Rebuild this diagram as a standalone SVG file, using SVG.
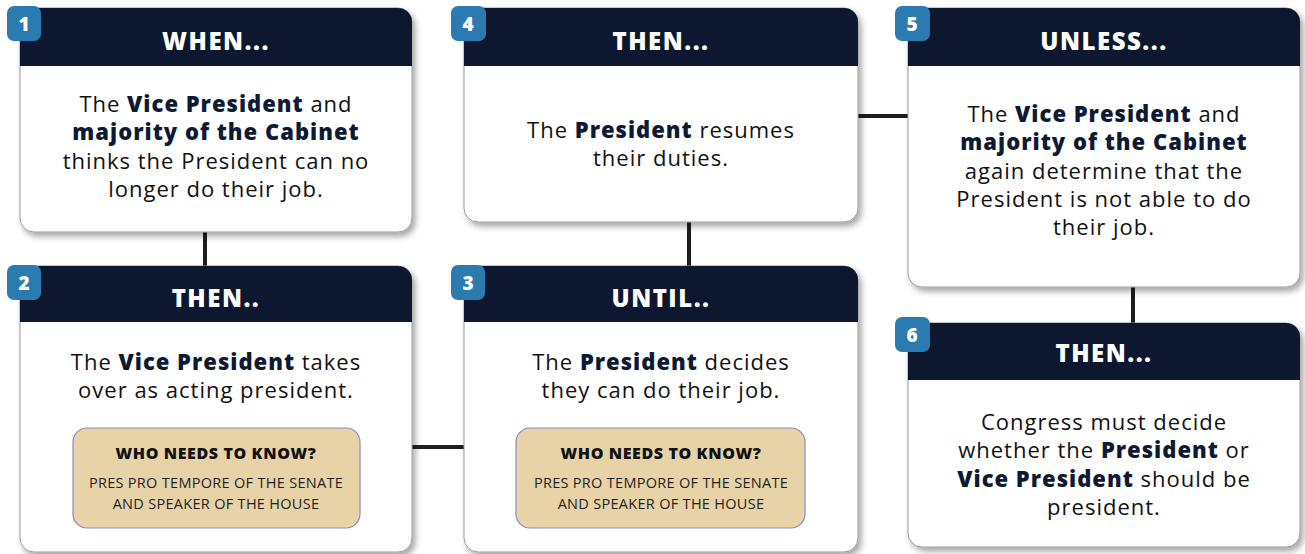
<svg xmlns="http://www.w3.org/2000/svg" width="1305" height="554" viewBox="0 0 1305 554">
<defs>
<filter id="sh" x="-10%" y="-10%" width="125%" height="130%">
<feDropShadow dx="3" dy="4" stdDeviation="3" flood-color="#000" flood-opacity="0.35"/>
</filter>
<style>
.card{fill:#fff;stroke:#9a9a9a;stroke-width:1}
.hdr{fill:#0d1730}
.badge{fill:#2b7bb0}
.bnum{font-family:"Open Sans","Noto Sans",sans-serif;font-weight:800;font-size:19px;fill:#fff;text-anchor:middle}
.htxt{font-family:"Open Sans","Noto Sans",sans-serif;font-weight:800;font-size:24px;letter-spacing:1.5px;fill:#fff;text-anchor:middle}
.body{font-family:"Open Sans","Noto Sans",sans-serif;font-size:22px;letter-spacing:1px;fill:#111;text-anchor:middle}
.b{font-weight:800;fill:#0e1a33}
.tan{fill:#e8d3a8;stroke:#8c88c2;stroke-width:1.2}
.tt{font-family:"Open Sans","Noto Sans",sans-serif;font-weight:800;font-size:16px;letter-spacing:0.6px;fill:#111;text-anchor:middle}
.ts{font-family:"Open Sans","Noto Sans",sans-serif;font-size:14.5px;letter-spacing:0.3px;fill:#222;text-anchor:middle}
.con{stroke:#1e1e1e;stroke-width:4;fill:none}
</style>
</defs>
<g id="connectors">
<line class="con" x1="205" y1="230" x2="205" y2="268"/>
<line class="con" x1="410" y1="447" x2="466" y2="447"/>
<line class="con" x1="689" y1="220" x2="689" y2="268"/>
<line class="con" x1="856" y1="116" x2="910" y2="116"/>
<line class="con" x1="1133" y1="285" x2="1133" y2="325"/>
</g>
<g id="node1">
<rect class="card" x="20" y="8" width="392" height="224" rx="14" filter="url(#sh)"/>
<path class="hdr" d="M20 8 H398 A14 14 0 0 1 412 22 V66 H20 Z"/>
<text class="htxt" x="216" y="50">WHEN...</text>
<text class="body"><tspan x="216" y="112">The <tspan class="b">Vice President</tspan> and</tspan><tspan x="216" y="140" class="b">majority of the Cabinet</tspan><tspan x="216" y="169">thinks the President can no</tspan><tspan x="216" y="197">longer do their job.</tspan></text>
<rect class="badge" x="7" y="6" width="34" height="35" rx="7"/>
<text class="bnum" x="24" y="31">1</text>
</g>
<g id="node2">
<rect class="card" x="20" y="266" width="392" height="286" rx="14" filter="url(#sh)"/>
<path class="hdr" d="M20 266 H398 A14 14 0 0 1 412 280 V322 H20 Z"/>
<text class="htxt" x="216" y="307">THEN..</text>
<text class="body"><tspan x="216" y="370">The <tspan class="b">Vice President</tspan> takes</tspan><tspan x="216" y="398">over as acting president.</tspan></text>
<rect class="tan" x="73" y="428" width="287" height="100" rx="14"/>
<text class="tt" x="216" y="459">WHO NEEDS TO KNOW?</text>
<text class="ts" x="216" y="488">PRES PRO TEMPORE OF THE SENATE</text>
<text class="ts" x="216" y="509">AND SPEAKER OF THE HOUSE</text>
<rect class="badge" x="7" y="265" width="34" height="35" rx="7"/>
<text class="bnum" x="24" y="290">2</text>
</g>
<g id="node3">
<rect class="card" x="464" y="266" width="394" height="286" rx="14" filter="url(#sh)"/>
<path class="hdr" d="M464 266 H844 A14 14 0 0 1 858 280 V322 H464 Z"/>
<text class="htxt" x="661" y="307">UNTIL..</text>
<text class="body"><tspan x="661" y="370">The <tspan class="b">President</tspan> decides</tspan><tspan x="661" y="398">they can do their job.</tspan></text>
<rect class="tan" x="516" y="428" width="289" height="100" rx="14"/>
<text class="tt" x="661" y="459">WHO NEEDS TO KNOW?</text>
<text class="ts" x="661" y="488">PRES PRO TEMPORE OF THE SENATE</text>
<text class="ts" x="661" y="509">AND SPEAKER OF THE HOUSE</text>
<rect class="badge" x="451" y="265" width="34" height="35" rx="7"/>
<text class="bnum" x="468" y="290">3</text>
</g>
<g id="node4">
<rect class="card" x="464" y="8" width="394" height="214" rx="14" filter="url(#sh)"/>
<path class="hdr" d="M464 8 H844 A14 14 0 0 1 858 22 V66 H464 Z"/>
<text class="htxt" x="661" y="50">THEN...</text>
<text class="body"><tspan x="661" y="138">The <tspan class="b">President</tspan> resumes</tspan><tspan x="661" y="166">their duties.</tspan></text>
<rect class="badge" x="451" y="6" width="35" height="35" rx="7"/>
<text class="bnum" x="468" y="31">4</text>
</g>
<g id="node5">
<rect class="card" x="908" y="8" width="392" height="279" rx="14" filter="url(#sh)"/>
<path class="hdr" d="M908 8 H1286 A14 14 0 0 1 1300 22 V66 H908 Z"/>
<text class="htxt" x="1104" y="50">UNLESS...</text>
<text class="body"><tspan x="1104" y="122">The <tspan class="b">Vice President</tspan> and</tspan><tspan x="1104" y="150" class="b">majority of the Cabinet</tspan><tspan x="1104" y="179">again determine that the</tspan><tspan x="1104" y="207">President is not able to do</tspan><tspan x="1104" y="235">their job.</tspan></text>
<rect class="badge" x="895" y="6" width="35" height="35" rx="7"/>
<text class="bnum" x="912" y="31">5</text>
</g>
<g id="node6">
<rect class="card" x="908" y="323" width="392" height="224" rx="14" filter="url(#sh)"/>
<path class="hdr" d="M908 323 H1286 A14 14 0 0 1 1300 337 V380 H908 Z"/>
<text class="htxt" x="1104" y="362">THEN...</text>
<text class="body"><tspan x="1104" y="430">Congress must decide</tspan><tspan x="1104" y="458">whether the <tspan class="b">President</tspan> or</tspan><tspan x="1104" y="487"><tspan class="b">Vice President</tspan> should be</tspan><tspan x="1104" y="515">president.</tspan></text>
<rect class="badge" x="895" y="317" width="35" height="35" rx="7"/>
<text class="bnum" x="912" y="342">6</text>
</g>
</svg>
